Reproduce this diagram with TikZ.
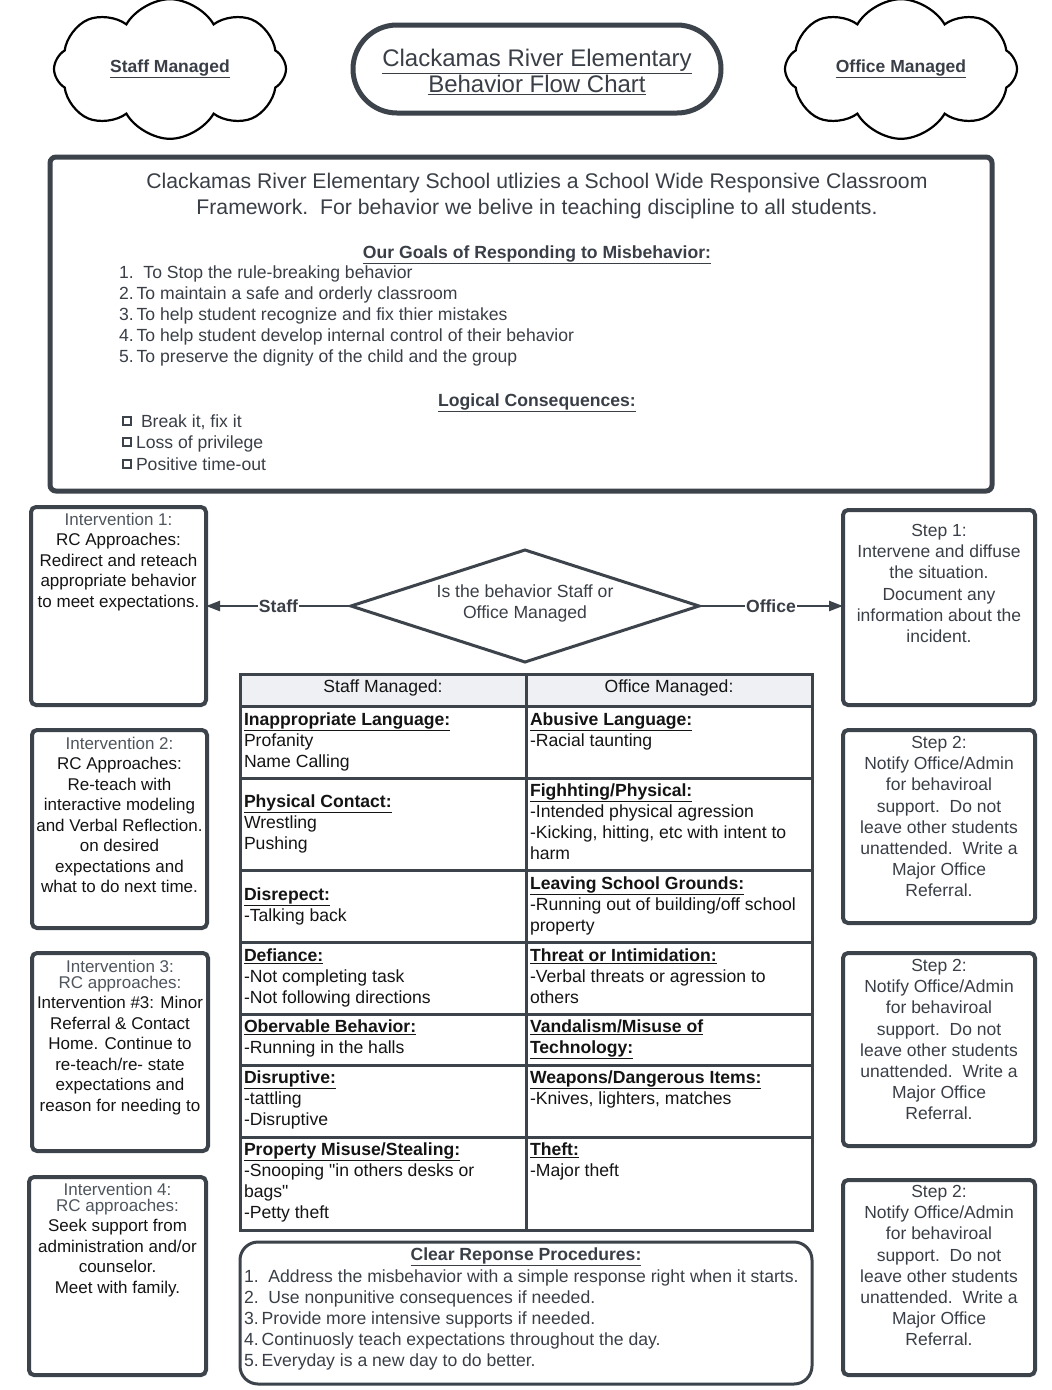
\documentclass[tikz,border=0pt]{standalone}
\usepackage{fontspec}
\setmainfont{Liberation Sans}
\usetikzlibrary{shapes.geometric,shapes.symbols,arrows.meta}
\definecolor{edge}{HTML}{3D434B}
\definecolor{ink}{HTML}{3A3F47}
\definecolor{inkgray}{HTML}{4F555D}
\definecolor{inkdark}{HTML}{141414}
\definecolor{hdrfill}{HTML}{EEF0F3}
\newcommand\ulb[1]{\textbf{\underline{#1}}}
\begin{document}
\begin{tikzpicture}[x=1pt,y=-1pt,
  every node/.style={inner sep=0pt, outer sep=0pt},
  fbody/.style={font=\fontsize{17}{20.5}\selectfont},
  fstep/.style={font=\fontsize{17.5}{21.1}\selectfont, text=ink, align=center, anchor=north},
  ftab/.style={font=\fontsize{17.6}{21}\selectfont, text=inkdark, align=left, anchor=north west},
  boxframe/.style={draw=edge, line width=4pt, rounded corners=5pt, fill=white},
  cloudbox/.style={cloud, cloud puffs=8, cloud puff arc=120, aspect=1.5, draw=black, line width=2.2pt,
    minimum width=232pt, minimum height=132pt,
    font=\bfseries\fontsize{17.5}{20}\selectfont, text=ink},
  tbl/.style={draw=edge, line width=3pt},
  chk/.style={draw=edge, line width=1.8pt, minimum width=8pt, minimum height=8pt},
  conn/.style={draw=edge, line width=2.4pt, -{Triangle[length=14pt,width=10pt]}},
  connlabel/.style={fill=white, inner xsep=1pt, inner ysep=2pt, font=\bfseries\fontsize{17.6}{20}\selectfont, text=ink}
]
\useasboundingbox (0,0) rectangle (1052,1390);
\fill[white] (0,0) rectangle (1052,1390);

% clouds and title
\node[cloudbox] (cloudL) at (170,69) {\makebox[118pt]{\underline{Staff Managed}}};
\node[cloudbox] (cloudR) at (901,69) {\makebox[118pt]{\underline{Office Managed}}};
\node[draw=edge, line width=5pt, rounded corners=44pt, minimum width=368pt, minimum height=88pt] (title) at (537,69) {};
\node[font=\fontsize{24}{26}\selectfont, text=ink, align=center, anchor=north] (titletext) at (537,49)
  {\underline{Clackamas River Elementary}\\\underline{Behavior Flow Chart}};

% main box
\node[draw=edge, line width=5pt, rounded corners=6pt, minimum width=942pt, minimum height=334pt] (mainbox) at (521,324) {};
\node[font=\fontsize{21.2}{26}\selectfont, text=ink, align=center, anchor=north] (intro) at (537,173)
  {Clackamas River Elementary School utlizies a School Wide Responsive Classroom\\
   Framework.\ \ For behavior we belive in teaching discipline to all students.};
\node[font=\bfseries\fontsize{17.6}{20}\selectfont, text=ink, anchor=base] (goalshdr) at (537,258)
  {\underline{Our Goals of Responding to Misbehavior:}};
\node[font=\fontsize{17.6}{21}\selectfont, text=ink, align=left, anchor=north west] (goals) at (119,266)
  {1.\ \ To Stop the rule-breaking behavior\\
   2.\kern3pt To maintain a safe and orderly classroom\\
   3.\kern3pt To help student recognize and fix thier mistakes\\
   4.\kern3pt To help student develop internal control of their behavior\\
   5.\kern3pt To preserve the dignity of the child and the group};
\node[font=\bfseries\fontsize{17.6}{20}\selectfont, text=ink, anchor=base] (conshdr) at (537,406)
  {\underline{Logical Consequences:}};
\node[chk] (c1) at (127,421) {};
\node[chk] (c2) at (127,442) {};
\node[chk] (c3) at (127,464) {};
\node[font=\fontsize{17.6}{21}\selectfont, text=ink, anchor=base west] (t1) at (141,427) {Break it, fix it};
\node[font=\fontsize{17.6}{21}\selectfont, text=ink, anchor=base west] (t2) at (136,448) {Loss of privilege};
\node[font=\fontsize{17.6}{21}\selectfont, text=ink, anchor=base west] (t3) at (136,470) {Positive time-out};

% intervention boxes (left)
\node[boxframe, minimum width=175pt, minimum height=198pt] (i1) at (118.5,606) {};
\node[fbody, text=inkdark, align=center, anchor=north] (i1t) at (118.5,513)
  {{\color{inkgray}Intervention 1:}\\RC Approaches:\\Redirect and reteach\\appropriate behavior\\to meet expectations.};
\node[boxframe, minimum width=175pt, minimum height=198pt] (i2) at (119.5,829) {};
\node[fbody, text=inkdark, align=center, anchor=north] (i2t) at (119.5,737)
  {{\color{inkgray}Intervention 2:}\\RC Approaches:\\Re-teach with\\interactive modeling\\and Verbal Reflection.\\on desired\\expectations and\\what to do next time.};
\node[boxframe, minimum width=176pt, minimum height=198pt] (i3) at (120,1052) {};
\node[fbody, text=inkdark, align=center, anchor=north] (i3t) at (120,960)
  {{\color{inkgray}Intervention 3:}\\[-4.5pt]{\color{inkgray}RC approaches:}\\Intervention \#3: Minor\\Referral \& Contact\\Home. Continue to\\re-teach/re- state\\expectations and\\reason for needing to};
\node[boxframe, minimum width=177pt, minimum height=198pt] (i4) at (117.5,1276) {};
\node[fbody, text=inkdark, align=center, anchor=north] (i4t) at (117.5,1183)
  {{\color{inkgray}Intervention 4:}\\[-4.5pt]{\color{inkgray}RC approaches:}\\Seek support from\\administration and/or\\counselor.\\Meet with family.};

% step boxes (right)
\node[boxframe, minimum width=192pt, minimum height=195pt] (s1) at (939,607.5) {};
\node[fstep] (s1t) at (939,524.5)
  {Step 1:\\Intervene and diffuse\\the situation.\\Document any\\information about the\\incident.};
\node[boxframe, minimum width=192pt, minimum height=193pt] (s2) at (939,826.5) {};
\node[fstep] (s2t) at (939,736.5)
  {Step 2:\\Notify Office/Admin\\for behaviroal\\support.\ \ Do not\\leave other students\\unattended.\ \ Write a\\Major Office\\Referral.};
\node[boxframe, minimum width=192pt, minimum height=193pt] (s3) at (939,1049.5) {};
\node[fstep] (s3t) at (939,959.5)
  {Step 2:\\Notify Office/Admin\\for behaviroal\\support.\ \ Do not\\leave other students\\unattended.\ \ Write a\\Major Office\\Referral.};
\node[boxframe, minimum width=192pt, minimum height=195pt] (s4) at (939,1277.5) {};
\node[fstep] (s4t) at (939,1185.5)
  {Step 2:\\Notify Office/Admin\\for behaviroal\\support.\ \ Do not\\leave other students\\unattended.\ \ Write a\\Major Office\\Referral.};

% decision
\node[diamond, draw=edge, line width=3pt, minimum width=348pt, minimum height=112pt] (dia) at (525,606) {};
\node[font=\fontsize{17.6}{21}\selectfont, text=ink, align=center] (diat) at (525,603)
  {Is the behavior Staff or\\Office Managed};
\draw[conn] (dia.west) -- node[connlabel] (lstaff) {Staff} (dia.west -| i1.east);
\draw[conn] (dia.east) -- node[connlabel] (loffice) {Office} (dia.east -| s1.west);

% table
\fill[hdrfill] (240,674) rectangle (812,706);
\draw[tbl] (240,674) rectangle (812,1230);
\draw[tbl] (526,674) -- (526,1230);
\foreach \yy in {706,778,870,942,1014,1065,1137} {\draw[tbl] (240,\yy) -- (812,\yy);}
\node[font=\fontsize{17.6}{21}\selectfont, text=inkdark] (hL) at (383,688) {Staff Managed:};
\node[font=\fontsize{17.6}{21}\selectfont, text=inkdark] (hR) at (669,688) {Office Managed:};

\node[ftab] (a1) at (244,712.5) {\ulb{Inappropriate Language:}\\Profanity\\Name Calling};
\node[ftab] (b1) at (530,712.5) {\ulb{Abusive Language:}\\-Racial taunting};
\node[ftab] (a2) at (244,794.5) {\ulb{Physical Contact:}\\Wrestling\\Pushing};
\node[ftab] (b2) at (530,783.5) {\ulb{Fighhting/Physical:}\\-Intended physical agression\\-Kicking, hitting, etc with intent to\\harm};
\node[ftab] (a3) at (244,887.5) {\ulb{Disrepect:}\\-Talking back};
\node[ftab] (b3) at (530,876.5) {\ulb{Leaving School Grounds:}\\-Running out of building/off school\\property};
\node[ftab] (a4) at (244,948.5) {\ulb{Defiance:}\\-Not completing task\\-Not following directions};
\node[ftab] (b4) at (530,948.5) {\ulb{Threat or Intimidation:}\\-Verbal threats or agression to\\others};
\node[ftab] (a5) at (244,1019.5) {\ulb{Obervable Behavior:}\\-Running in the halls};
\node[ftab] (b5) at (530,1019.5) {\ulb{Vandalism/Misuse of}\\\ulb{Technology:}};
\node[ftab] (a6) at (244,1070.5) {\ulb{Disruptive:}\\-tattling\\-Disruptive};
\node[ftab] (b6) at (530,1070.5) {\ulb{Weapons/Dangerous Items:}\\-Knives, lighters, matches};
\node[ftab] (a7) at (244,1142.5) {\ulb{Property Misuse/Stealing:}\\-Snooping \textquotedbl in others desks or\\bags\textquotedbl\\-Petty theft};
\node[ftab] (b7) at (530,1142.5) {\ulb{Theft:}\\-Major theft};

% procedures
\node[draw=edge, line width=3pt, rounded corners=18pt, minimum width=572pt, minimum height=142pt] (proc) at (526,1313) {};
\node[font=\bfseries\fontsize{17.6}{20}\selectfont, text=ink, anchor=base] (proch) at (526,1260)
  {\underline{Clear Reponse Procedures:}};
\node[font=\fontsize{17.6}{21}\selectfont, text=ink, align=left, anchor=north west] (procl) at (244,1269.5)
  {1.\ \ Address the misbehavior with a simple response right when it starts.\\
   2.\ \ Use nonpunitive consequences if needed.\\
   3.\kern3pt Provide more intensive supports if needed.\\
   4.\kern3pt Continuosly teach expectations throughout the day.\\
   5.\kern3pt Everyday is a new day to do better.};
\end{tikzpicture}
\end{document}
